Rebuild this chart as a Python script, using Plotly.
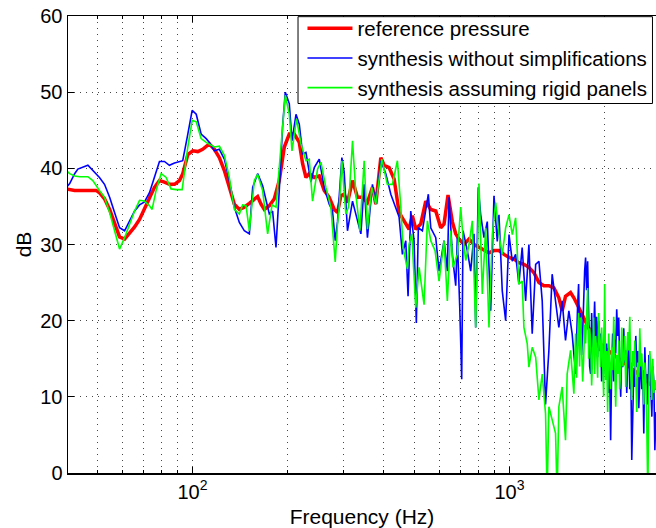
import math
import plotly.graph_objects as go

# ---------------- data (Hz, dB) ----------------
red_f = [40, 42.5, 47.4, 49.7, 50.9, 52.8, 54.8, 56.8, 58.9, 61.1, 63.3, 65.7, 68.1, 70.6, 73.2,
         75.9, 78.7, 81.6, 84.6, 87.8, 91.0, 93.2, 96.7, 100.3, 104.0, 107.7, 111.7, 113.1, 117.3,
         121.6, 126.1, 130.7, 135.6, 140.6, 145.8, 151.2, 156.8, 160.6, 164.6, 168.6, 174.8, 181.3,
         187.9, 194.9, 202.1, 209.6, 217.3, 222.6, 228.1, 233.6, 242.3, 251.2, 260.4, 270.1, 280.1,
         286.9, 294.0, 301.1, 308.4, 319.9, 331.6, 343.8, 356.5, 369.7, 378.9, 392.9, 402.4, 417.3,
         432.7, 448.7, 465.2, 482.4, 494.1, 506.4, 525.2, 544.6, 564.7, 585.6, 607.2, 621.9, 640.2,
         660.5, 677.0, 693.4, 719.0, 745.6, 773.1, 801.7, 831.3, 862.0, 893.9, 926.9, 961.1, 997,
         1033, 1071, 1111, 1152, 1195, 1239, 1284, 1332, 1381, 1432, 1467, 1503, 1559, 1597, 1656,
         1717, 1780, 1846, 1985, 2213, 2467, 2900]
red_db = [37.3, 37.1, 37.1, 37.1, 36.8, 36.0, 34.6, 32.9, 31.0, 30.7, 31.4, 32.3, 33.3, 34.6, 36.1,
          37.5, 38.4, 38.2, 37.9, 37.9, 38.4, 39.3, 41.8, 42.3, 42.2, 42.5, 43.1, 43.2, 42.5,
          41.4, 39.7, 37.5, 35.3, 34.6, 34.9, 35.4, 36.0, 36.3, 35.3, 34.6, 35.1, 36.0,
          38.4, 42.8, 44.5, 44.5, 43.4, 40.6, 38.8, 39.3, 38.8, 39.0, 37.1, 36.2, 34.6,
          34.2, 36.4, 36.6, 35.5, 38.4, 36.2, 36.2, 35.5, 37.5, 35.3, 41.4, 40.4, 40.1,
          38.6, 34.2, 33.1, 32.0, 33.8, 32.0, 32.7, 35.7, 34.6, 34.4, 32.2, 32.7, 36.5,
          33.0, 31.4, 30.7, 30.0, 30.7, 30.0, 29.6, 29.2, 28.9, 29.2, 29.2, 28.7, 28.3,
          28.1, 27.6, 27.4, 27.0, 26.3, 25.0, 24.6, 24.6, 24.3, 23.0, 21.3, 23.2, 23.7, 23.0, 21.7,
          20.4, 19.0, 18.0, 16.5, 15.0, 13.5, 11.0]

blue_f_low = [40, 41.0, 42.5, 43.5, 46.8, 49.1, 50.9, 52.8, 54.8, 56.8, 58.9, 61.1, 63.3, 65.7, 68.1,
              70.6, 73.2, 75.9, 78.7, 81.6, 84.6, 87.8, 91.0, 93.2, 96.7, 99.8, 102.8, 106.5, 110.5,
              113.1, 117.3, 121.6, 126.1, 130.7, 135.6, 140.6, 145.8, 151.2, 154.9, 160.6, 166.5, 170.7,
              174.8, 179.0, 183.5, 187.9, 192.4, 196.3, 202.1, 206.1, 212.2, 217.3, 222.6, 228.1, 236.5,
              242.3, 251.2, 260.4, 270.1, 276.6, 282.1, 286.9, 296.1, 301.1, 308.4, 319.9, 327.8, 339.9,
              348.1, 356.5, 369.7, 378.9, 392.9, 407.4, 422.5, 432.7, 448.7, 459.6, 471.0, 478.9, 488.4,
              500.2, 508.6, 516.0, 531.4, 554.9, 564.7, 585.6, 599.8, 621.9, 637.0, 644.9, 660.5, 677.0,
              684.9, 696.9, 707.1, 713.9, 736.4, 754.8, 773.1, 782.7, 797.6, 811.6, 831.3, 851.4, 872.7,
              893.9, 915.5, 926.9, 949.3, 973.0, 997, 1021, 1046, 1071, 1097, 1125, 1152, 1180, 1210,
              1239, 1269, 1300, 1332, 1364, 1398, 1432, 1467, 1503, 1540, 1577]
blue_db_low = [37.5, 38.0, 39.3, 39.9, 40.4, 39.5, 38.8, 37.9, 36.2, 34.2, 32.2, 31.8, 33.1, 34.4, 35.2,
               35.6, 36.8, 38.8, 40.9, 40.9, 40.4, 40.7, 40.9, 41.0, 44.5, 47.6, 47.1, 44.5, 43.9,
               43.4, 42.3, 42.5, 41.2, 38.4, 34.9, 32.9, 31.8, 31.4, 37.5, 39.3, 37.7, 36.0,
               34.0, 34.4, 29.6, 37.1, 45.4, 50.0, 48.5, 43.6, 47.1, 45.8, 41.9, 42.1, 38.2,
               40.1, 41.2, 37.5, 35.3, 34.4, 30.5, 33.0, 41.4, 39.5, 31.8, 35.7, 34.0, 31.4,
               37.9, 30.9, 37.9, 35.3, 41.0, 39.3, 36.6, 35.3, 33.6, 28.7, 30.5, 23.2, 34.4,
               30.5, 19.7, 32.2, 31.8, 36.6, 32.2, 30.9, 26.5, 30.5, 26.5, 36.2, 28.7, 24.6,
               30.9, 21.9, 12.3, 31.8, 29.2, 26.5, 31.4, 19.1, 37.5, 33.9, 30.9, 33.0, 21.3,
               36.4, 30.4, 33.9, 23.9, 20.0, 31.3, 27.8, 28.7, 24.8, 29.6, 22.6, 30.0, 18.3, 27.4,
               27.8, 22.6, 9.0, 16.1, 26.1, 22.6, 19.1, 22.6, 17.4, 21.3, 18.3]

green_f_low = [40, 41.0, 42.5, 44.1, 46.8, 48.5, 50.9, 52.8, 54.8, 56.8, 58.9, 61.1, 63.3, 65.7, 68.1,
               70.6, 73.2, 74.6, 76.8, 79.7, 82.6, 85.6, 88.9, 92.8, 96.7, 99.8, 102.8, 106.5, 110.5,
               113.1, 117.3, 121.6, 126.1, 130.7, 135.6, 140.6, 144.0, 147.6, 151.2, 156.8, 160.6, 166.5,
               172.7, 178.3, 183.5, 190.2, 196.3, 202.1, 206.1, 213.1, 220.0, 228.1, 233.6, 239.3, 248.2,
               254.3, 263.6, 273.4, 282.1, 286.9, 290.4, 296.1, 304.8, 310.6, 319.9, 327.8, 337.4, 348.1,
               356.5, 368.1, 378.9, 395.8, 412.1, 427.4, 443.2, 454.3, 461.9, 476.5, 482.4, 491.9, 506.4,
               518.8, 537.9, 550.9, 564.7, 582.6, 599.8, 621.9, 637.0, 652.9, 663.9, 684.9, 702.0, 713.9,
               727.9, 745.6, 763.6, 782.7, 801.7, 821.1, 841.6, 862.0, 882.9, 905.0, 926.9, 949.3, 973.0,
               997, 1021, 1046, 1071, 1097, 1111, 1138, 1152, 1180, 1210, 1239, 1269, 1300, 1315, 1332,
               1364, 1398, 1414, 1432, 1467, 1503, 1521, 1559, 1597]
green_db_low = [39.7, 39.3, 39.0, 38.9, 38.9, 38.4, 37.1, 36.2, 34.2, 31.8, 29.4, 30.9, 32.7, 34.4, 35.8,
                35.7, 35.1, 34.6, 37.1, 39.3, 38.8, 37.3, 37.2, 37.2, 42.8, 46.3, 46.1, 43.9, 43.4,
                43.2, 42.8, 42.9, 41.7, 38.8, 34.6, 34.0, 35.2, 35.1, 31.8, 38.4, 39.2, 37.1,
                31.4, 35.2, 34.9, 42.8, 49.6, 47.1, 42.3, 46.5, 43.2, 41.0, 41.2, 35.7, 39.9,
                40.8, 37.5, 34.9, 27.7, 32.7, 34.9, 41.0, 34.0, 34.9, 43.6, 36.6, 31.8, 41.0,
                32.0, 37.5, 35.3, 41.2, 37.9, 37.9, 41.0, 34.9, 29.6, 26.8, 30.0, 31.4, 21.7,
                27.0, 22.1, 33.1, 30.5, 29.2, 25.2, 30.5, 22.6, 31.8, 27.0, 28.7, 34.9, 30.9,
                27.9, 30.0, 33.1, 19.1, 38.0, 23.5, 32.2, 19.1, 31.3, 35.5, 31.3, 28.7, 32.2,
                33.9, 31.3, 33.5, 24.8, 25.2, 19.1, 17.0, 13.9, 16.5, 15.2, 9.6, 13.0, 7.8, -3.0, 8.7,
                7.0, 5.2, -3.0, 8.7, 11.3, 4.3, 13.0, 16.1, 10.4]

# high-frequency tail (shared frequency bins above 1.6 kHz)
hf_f = [1617, 1629, 1641, 1653, 1665, 1677, 1689, 1702, 1714, 1727,
        1739, 1752, 1765, 1778, 1791, 1804, 1817, 1830, 1844, 1857,
        1871, 1884, 1898, 1912, 1926, 1940, 1954, 1968, 1983, 1997,
        2012, 2027, 2041, 2056, 2071, 2086, 2102, 2117, 2133, 2148,
        2164, 2180, 2196, 2212, 2228, 2244, 2261, 2277, 2294, 2311,
        2328, 2345, 2362, 2379, 2397, 2414, 2432, 2450, 2468, 2486,
        2504, 2522, 2541, 2559, 2578, 2597, 2616, 2635, 2654, 2674,
        2693, 2713, 2733, 2753, 2773, 2793, 2814, 2834, 2855, 2876,
        2900]
blue_db_hf = [13.0, 19.5, 22.0, 24.8, 17.0, 21.0, 15.5, 18.3, 23.5, 26.5,
              28.3, 24.0, 27.8, 19.5, 14.0, 13.0, 21.0, 16.5, 18.3, 22.5,
              17.0, 20.5, 15.2, 20.0, 16.0, 18.3, 12.0, 16.5, 13.0, 20.0,
              14.5, 17.0, 12.0, 10.5, 14.5, 4.3, 14.0, 18.3, 12.0, 17.5,
              15.7, 21.5, 18.0, 20.4, 14.0, 10.0, 16.5, 13.9, 19.0, 14.5,
              16.1, 10.5, 15.0, 17.4, 11.0, 14.5, 1.7, 9.0, 13.5, 11.3,
              18.0, 13.9, 16.0, 8.5, 14.0, 15.7, 11.0, 13.5, 5.2, 16.5,
              12.0, 13.0, 9.0, 15.5, 14.8, 10.0, 7.4, 14.0, 12.0, 3.0,
              8.0]
green_db_hf = [18.3, 12.5, 16.0, 21.0, 14.0, 20.4, 16.5, 12.0, 14.8, 19.5,
               17.0, 21.5, 24.3, 15.0, 19.0, 17.4, 11.5, 15.5, 20.4, 13.0,
               18.0, 16.1, 12.5, 21.0, 15.5, 13.9, 19.1, 15.0, 10.0, 24.8,
               12.2, 16.0, 8.0, 18.3, 14.0, 11.0, 16.5, 13.5, 20.5, 12.0,
               8.7, 15.5, 13.0, 17.4, 11.0, 13.5, 19.1, 14.0, 15.0, 18.0,
               11.3, 15.5, 18.5, 16.1, 20.5, 13.0, 9.6, 16.0, 14.0, 17.4,
               12.0, 8.0, 14.5, 12.6, 19.0, 14.0, 15.7, 11.0, 9.0, 14.5,
               12.2, 6.0, -3.0, 11.0, 16.0, 13.9, 9.6, 15.0, 10.5, 12.2,
               11.0]

series_names = ["reference pressure", "synthesis without simplifications",
                "synthesis assuming rigid panels"]
y_ticks = [0, 10, 20, 30, 40, 50, 60]
x_major = [100, 1000]
x_major_text = ["10<sup>2</sup>", "10<sup>3</sup>"]
x_minor = [50, 60, 70, 80, 90, 200, 300, 400, 500, 600, 700, 800, 900, 2000]
x_min, x_max = 40.5, 2900

blue_f = blue_f_low + hf_f
blue_db = blue_db_low + blue_db_hf
green_f = green_f_low + hf_f
green_db = green_db_low + green_db_hf

FONT = "Liberation Sans, Arial, Helvetica, sans-serif"
GRID = "rgb(70,70,70)"

fig = go.Figure()
fig.add_trace(go.Scatter(x=red_f, y=red_db, mode="lines", name=series_names[0],
                         line=dict(color="#ff0000", width=3.5)))
fig.add_trace(go.Scatter(x=blue_f, y=blue_db, mode="lines", name=series_names[1],
                         line=dict(color="#0000ff", width=1.6)))
fig.add_trace(go.Scatter(x=green_f, y=green_db, mode="lines", name=series_names[2],
                         line=dict(color="#00ff00", width=1.6)))

# legend frame (white box with black border, drawn above the curves)
fig.add_shape(type="rect", xref="paper", yref="paper",
              x0=0.3912, x1=0.9940, y0=0.8085, y1=0.9985,
              fillcolor="white", line=dict(color="black", width=1), layer="above")

fig.update_layout(
    width=656, height=528,
    margin=dict(l=68, r=0, t=16, b=55),
    paper_bgcolor="white", plot_bgcolor="white",
    font=dict(family=FONT, size=20, color="black"),
    showlegend=True,
    legend=dict(x=0.994, xanchor="right", y=1.0165, yanchor="top",
                bgcolor="rgba(0,0,0,0)", borderwidth=0,
                font=dict(size=20.5), itemwidth=45, tracegroupgap=0),
    xaxis=dict(type="log", range=[math.log10(x_min), math.log10(x_max)],
               tickmode="array", tickvals=x_major, ticktext=x_major_text,
               ticks="inside", ticklen=6, tickwidth=1, tickcolor="black",
               showline=True, linecolor="black", linewidth=1.5, mirror="ticks",
               showgrid=True, gridcolor=GRID, griddash="1px,5px", gridwidth=1,
               zeroline=False,
               minor=dict(tickmode="array", tickvals=x_minor, ticks="inside", ticklen=3,
                          tickcolor="black", showgrid=True, gridcolor=GRID,
                          griddash="1px,5px", gridwidth=1),
               title=dict(text="Frequency (Hz)", standoff=15, font=dict(size=21)),
               automargin=False),
    yaxis=dict(range=[0, 60], tickmode="array", tickvals=y_ticks,
               ticks="inside", ticklen=6, tickwidth=1, tickcolor="black",
               showline=True, linecolor="black", linewidth=1.5,
               showgrid=True, gridcolor=GRID, griddash="1px,5px", gridwidth=1,
               zeroline=False,
               title=dict(text="dB", standoff=3, font=dict(size=21)),
               automargin=False),
)

fig.write_html("out.html",
               config={"displayModeBar": False, "staticPlot": True},
               post_script="document.body.style.margin='0px';"
                           "document.body.style.overflow='hidden';")
